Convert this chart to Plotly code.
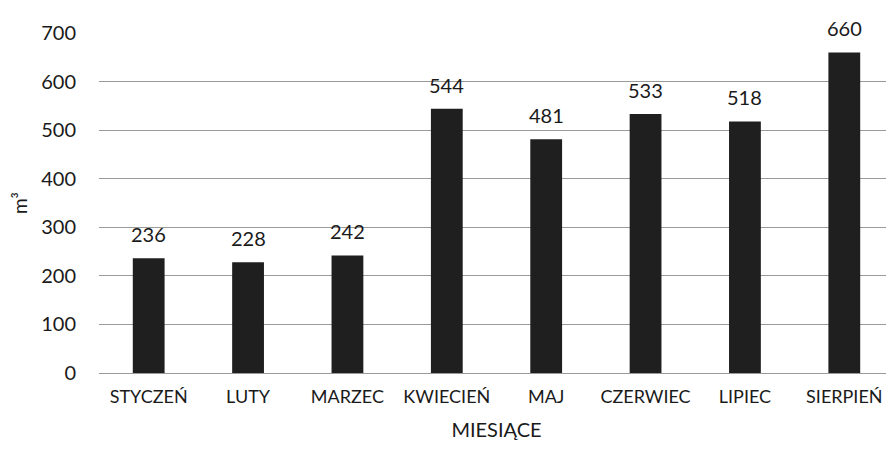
import plotly.graph_objects as go

months = ["STYCZEŃ", "LUTY", "MARZEC", "KWIECIEŃ", "MAJ", "CZERWIEC", "LIPIEC", "SIERPIEŃ"]
values = [236, 228, 242, 544, 481, 533, 518, 660]
y_ticks = [0, 100, 200, 300, 400, 500, 600, 700]

FONT = "Lato, 'Open Sans', sans-serif"

fig = go.Figure()
fig.add_trace(go.Bar(
    x=months, y=values,
    marker=dict(color="#1f1f1f", line=dict(width=0)),
    showlegend=False,
))

for m, v in zip(months, values):
    fig.add_annotation(
        x=m, y=v, text=str(v), showarrow=False,
        yanchor="bottom", yshift=10,
        font=dict(family=FONT, size=20, color="#1a1a1a"),
    )

# page body has an 8px default margin, so the figure is sized to fit the window
fig.update_layout(
    width=886, height=445,
    margin=dict(l=91, r=0, t=25, b=80),
    paper_bgcolor="white", plot_bgcolor="white",
    bargap=0.68,
    font=dict(family=FONT, color="#1a1a1a"),
    xaxis=dict(
        showgrid=False, showline=False, zeroline=False,
        tickfont=dict(size=18, color="#1a1a1a"),
        ticks="", ticklabelstandoff=11,
        title=dict(text="MIESIĄCE", font=dict(size=20, color="#1a1a1a"), standoff=16),
    ),
    yaxis=dict(
        range=[0, 700], tickvals=y_ticks,
        showgrid=True, gridcolor="#9a9a9a", gridwidth=1,
        zeroline=True, zerolinecolor="#9a9a9a", zerolinewidth=1,
        showline=False,
        tickfont=dict(size=20, color="#1a1a1a"),
        ticks="", ticklabelstandoff=22,
        title=dict(text="m³", font=dict(size=19, color="#1a1a1a"), standoff=14),
    ),
)

fig.write_html("out.html")
